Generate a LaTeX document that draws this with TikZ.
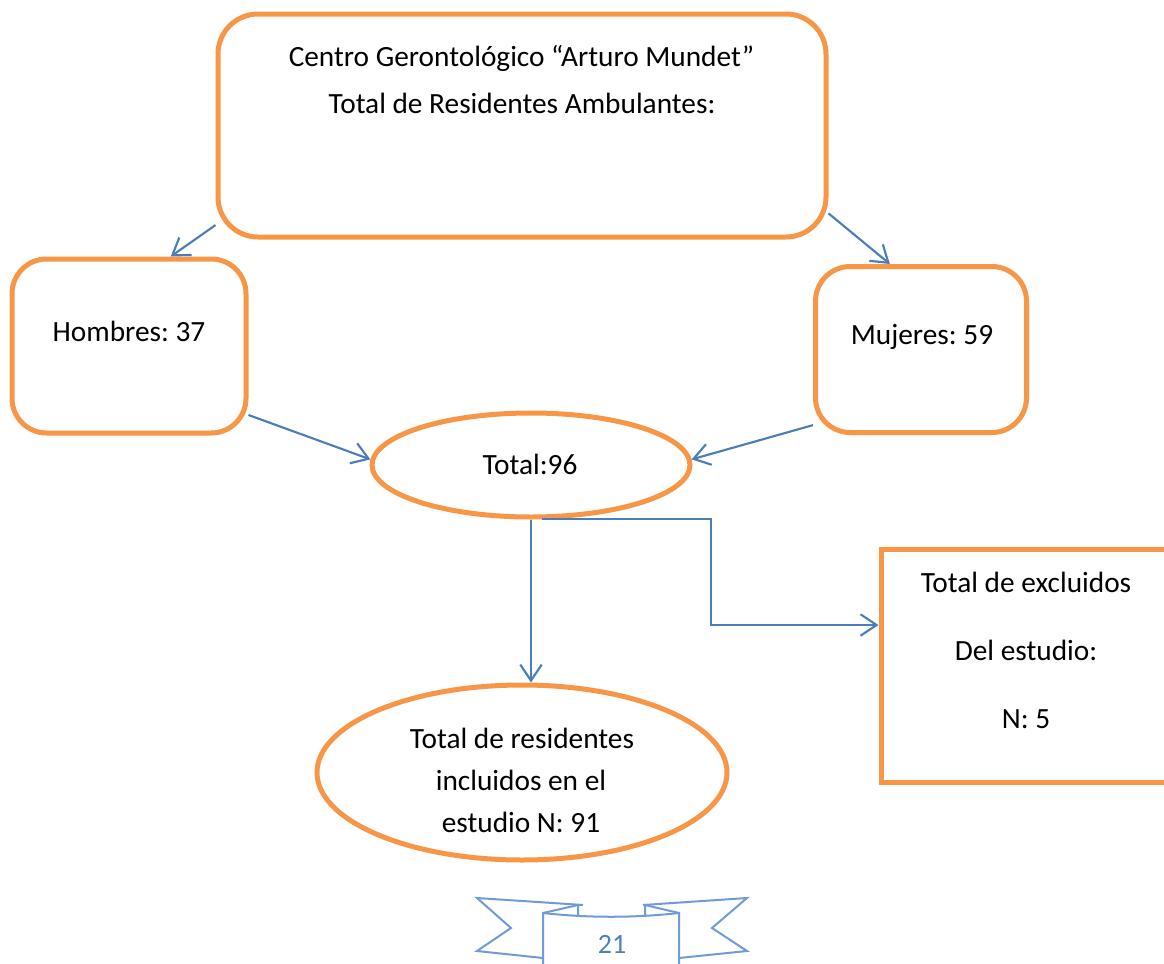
\documentclass[tikz,border=0pt]{standalone}
\usepackage{fontspec}
\setmainfont{Carlito}
\usetikzlibrary{arrows.meta,shapes.geometric}
\definecolor{borange}{HTML}{F79646}
\definecolor{ablue}{HTML}{4A7EBB}
\definecolor{rblue}{RGB}{112,155,216}
\definecolor{tblue}{RGB}{79,129,189}
\frenchspacing
\tikzset{
  obox/.style={draw=borange, line width=3.75pt, rectangle, inner sep=0pt},
  oell/.style={draw=borange, line width=3.75pt, ellipse, inner sep=0pt},
  arr/.style={draw=ablue, line width=1.6pt, -{Straight Barb[length=12pt,width=16pt,line width=1.6pt]}},
  lbl/.style={inner sep=0pt, anchor=base, font=\fontsize{22}{26}\selectfont},
  rib/.style={draw=rblue, line width=1.5pt, line join=miter}
}
\begin{document}
\begin{tikzpicture}[x=0.75pt,y=-0.75pt]
\useasboundingbox (0,0) rectangle (1164,964);
\clip (0,0) rectangle (1164,964);
% shapes
\node[obox, rounded corners=30pt, minimum width=456pt, minimum height=167.25pt] (top) at (522,125.5) {};
\node[obox, rounded corners=26pt, minimum width=175.5pt, minimum height=130.5pt] (hom) at (129,346) {};
\node[obox, rounded corners=26pt, minimum width=158.25pt, minimum height=124.5pt] (muj) at (921,349.5) {};
\node[oell, minimum width=238.5pt, minimum height=78pt] (tot) at (531,465) {};
\node[oell, minimum width=307.5pt, minimum height=131.25pt] (inc) at (522,772.5) {};
\node[obox, minimum width=219pt, minimum height=174.75pt] (exc) at (1027,665.5) {};
% texts
\node[lbl] (t1) at (521.5,66) {Centro Gerontológico “Arturo Mundet”};
\node[lbl] (t2) at (522,113) {Total de Residentes Ambulantes:};
\node[lbl] (th) at (129,341) {Hombres: 37};
\node[lbl] (tm) at (922,344) {Mujeres: 59};
\node[lbl] (tt) at (530,474) {Total:96};
\node[lbl] (i1) at (522,748) {Total de residentes};
\node[lbl] (i2) at (521,790) {incluidos en el};
\node[lbl] (i3) at (521,832) {estudio N: 91};
\node[lbl] (e1) at (1026,592) {Total de excluidos};
\node[lbl] (e2) at (1026,660) {Del estudio:};
\node[lbl] (e3) at (1026,728) {N: 5};
% connectors
\draw[arr] (top.198) -- (hom.65);
\draw[arr] (top.-16) -- (muj.110);
\draw[arr] (hom.-30.5) -- (tot.178);
\draw[arr] (muj.215) -- (tot.2);
\draw[arr] (tot.south) -- (tot.south |- inc.north);
\coordinate (bend) at (711,625);
\draw[arr] (tot.-79) -| (bend) -- (bend -| exc.west);
% page ribbon
\draw[rib] (583,905) -- (477,898) -- (511,928) -- (477,951) -- (543,958);
\draw[rib] (643,905) -- (747,898) -- (712,928) -- (747,951) -- (679,958);
\draw[rib] (543,970) -- (543,913) .. controls (588,918) and (634,918) .. (679,913) -- (679,970);
\draw[rib] (543,913) -- (578,905) -- (578,915);
\draw[rib] (679,913) -- (645,905) -- (645,915);
\node[lbl, text=tblue, font=\fontsize{21}{24}\selectfont] (pg) at (612,953) {21};
\end{tikzpicture}
\end{document}
